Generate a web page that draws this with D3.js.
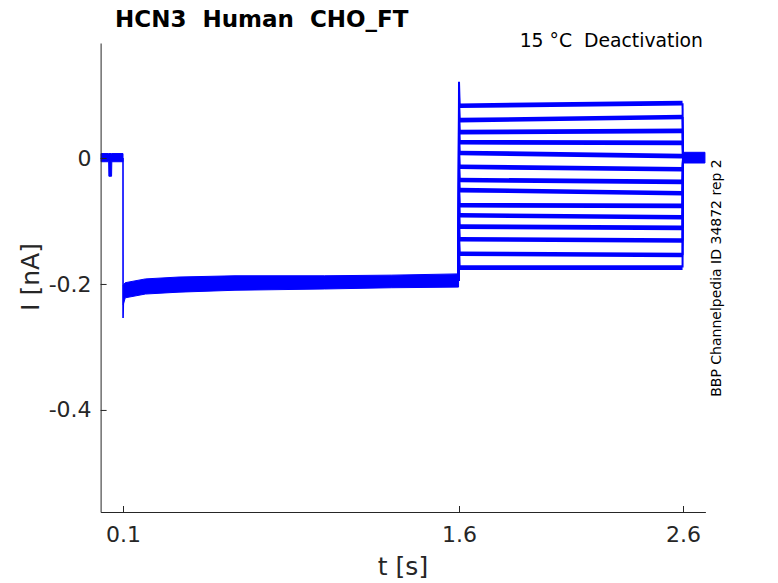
<!DOCTYPE html>
<html>
<head>
<meta charset="utf-8">
<script src="https://cdn.jsdelivr.net/npm/d3@7"></script>
<style>
	body { margin: 0; background: #fff; }
	svg { display: block; font-family: "DejaVu Sans", sans-serif; }
	text { white-space: pre; }
</style>
</head>
<body>
<svg class="chart"></svg>
<script>
// tick values and labels
var xTicks = [0.1, 1.6, 2.6];
var xTickLabels = ["0.1", "1.6", "2.6"];
var yTicks = [0, -0.2, -0.4];
var yTickLabels = ["0", "-0.2", "-0.4"];

// holding (before step): noise envelope, with the small dip
var preT  = [0.002, 0.036, 0.037, 0.049, 0.050, 0.100];
var preHi = [0.007, 0.007, 0.007, 0.007, 0.007, 0.007];
var preLo = [-0.006, -0.006, -0.029, -0.029, -0.006, -0.006];

// conditioning step: all sweeps overlap -> envelope of the band
var condT  = [0.101, 0.110, 0.200, 0.350, 0.600, 1.000, 1.300, 1.598];
var condHi = [-0.202, -0.198, -0.192, -0.189, -0.187, -0.187, -0.186, -0.184];
var condLo = [-0.233, -0.222, -0.216, -0.213, -0.210, -0.208, -0.206, -0.205];

// step onset transient
var onsetT = [0.100, 0.1003, 0.102];
var onsetI = [0.000, -0.254, -0.215];

// test pulses (deactivation), one value per sweep at start / end
var testT = [1.603, 2.598];
var testStart = [0.083, 0.060, 0.041, 0.025, 0.008, -0.014, -0.035, -0.051, -0.075, -0.091, -0.109, -0.129, -0.152, -0.174];
var testEnd   = [0.087, 0.065, 0.043, 0.024, 0.003, -0.018, -0.038, -0.056, -0.076, -0.094, -0.111, -0.131, -0.154, -0.174];
var condEndI = -0.195;
var spikeExtra = 0.038;

// back to holding after the test pulse
var postT  = [2.600, 2.698];
var postHi = [0.009, 0.009];
var postLo = [-0.008, -0.008];

var width = 778, height = 583;
var margin = ({top: 43, right: 72.6, bottom: 71, left: 100.6});

var x = d3.scaleLinear()
	.domain([0, 2.7])
	.range([margin.left, width - margin.right]);

var y = d3.scaleLinear()
	.domain([-0.562, 0.1825])
	.range([height - margin.bottom, margin.top]);

var blue = "#0000ff";
var ink = "#262626";

var svg = d3.select(".chart")
	.attr("width", width)
	.attr("height", height);

var area = d3.area()
	.x(d => x(d.t))
	.y0(d => y(d.lo))
	.y1(d => y(d.hi));

var line = d3.line()
	.x(d => x(d[0]))
	.y(d => y(d[1]));

function band(T, hi, lo) {
	return T.map((t, i) => ({t: t, hi: hi[i], lo: lo[i]}));
}

var traces = svg.append("g");

// envelopes
[band(preT, preHi, preLo), band(condT, condHi, condLo), band(postT, postHi, postLo)]
	.forEach(b => {
		traces.append("path")
			.attr("d", area(b))
			.attr("fill", blue)
			.attr("stroke", blue)
			.attr("stroke-width", 1);
	});

// onset transient
traces.append("path")
	.attr("d", line(onsetT.map((t, i) => [t, onsetI[i]])))
	.attr("fill", "none")
	.attr("stroke", blue)
	.attr("stroke-width", 1.6);

// test sweeps
testStart.forEach((s, i) => {
	var e = testEnd[i];
	// jump up at 1.6 s
	traces.append("path")
		.attr("d", line([[1.598, condEndI], [1.6, s + spikeExtra], [testT[0], s]]))
		.attr("fill", "none")
		.attr("stroke", blue)
		.attr("stroke-width", 2);
	// level
	traces.append("path")
		.attr("d", line([[testT[0], s], [testT[1], e]]))
		.attr("fill", "none")
		.attr("stroke", blue)
		.attr("stroke-width", 4.6);
	// back to holding at 2.6 s
	traces.append("path")
		.attr("d", line([[testT[1], e], [2.6, 0.0]]))
		.attr("fill", "none")
		.attr("stroke", blue)
		.attr("stroke-width", 2);
});

// axes
var xAxis = g => g
	.attr("transform", `translate(0,${height - margin.bottom})`)
	.call(d3.axisBottom(x)
		.tickValues(xTicks)
		.tickFormat((d, i) => xTickLabels[i])
		.tickSizeInner(-6)
		.tickSizeOuter(0)
		.tickPadding(14))
	.call(g => g.select(".domain").attr("stroke", ink))
	.call(g => g.selectAll(".tick line").attr("stroke", ink))
	.call(g => g.selectAll(".tick text")
		.attr("fill", ink)
		.attr("font-size", 22)
		.attr("font-family", "DejaVu Sans"));

var yAxis = g => g
	.attr("transform", `translate(${margin.left},0)`)
	.call(d3.axisLeft(y)
		.tickValues(yTicks)
		.tickFormat((d, i) => yTickLabels[i])
		.tickSizeInner(-6)
		.tickSizeOuter(0)
		.tickPadding(9))
	.call(g => g.select(".domain").attr("stroke", ink))
	.call(g => g.selectAll(".tick line").attr("stroke", ink))
	.call(g => g.selectAll(".tick text")
		.attr("fill", ink)
		.attr("font-size", 22)
		.attr("font-family", "DejaVu Sans"));

svg.append("g").call(xAxis);
svg.append("g").call(yAxis);

// labels
svg.append("text")
	.attr("x", 403)
	.attr("y", 575)
	.attr("text-anchor", "middle")
	.attr("font-size", 25)
	.attr("fill", ink)
	.text("t [s]");

svg.append("text")
	.attr("transform", "translate(39,277) rotate(-90)")
	.attr("text-anchor", "middle")
	.attr("font-size", 25)
	.attr("fill", ink)
	.text("I [nA]");

svg.append("text")
	.attr("x", 115)
	.attr("y", 27)
	.attr("font-size", 23)
	.attr("font-weight", "bold")
	.attr("fill", "#000")
	.text("HCN3  Human  CHO_FT");

svg.append("text")
	.attr("x", 703)
	.attr("y", 47)
	.attr("text-anchor", "end")
	.attr("font-size", 18.8)
	.attr("fill", "#000")
	.text("15 °C  Deactivation");

svg.append("text")
	.attr("transform", "translate(721,278) rotate(-90)")
	.attr("text-anchor", "middle")
	.attr("font-size", 14)
	.attr("fill", "#000")
	.text("BBP Channelpedia ID 34872 rep 2");
</script>
</body>
</html>
